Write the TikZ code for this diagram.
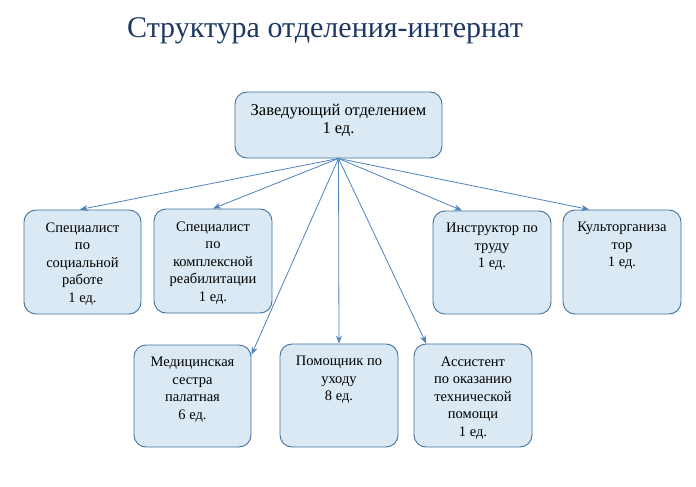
\documentclass[tikz,border=0pt]{standalone}
\usepackage{fontspec}
\setmainfont{Liberation Serif}
\usetikzlibrary{arrows.meta}
\definecolor{ColorTitle}{HTML}{1F3864}
\definecolor{ColorFill}{HTML}{DAE9F3}
\definecolor{ColorEdge}{HTML}{41719C}
\definecolor{ColorArrow}{HTML}{4F81BD}
\tikzset{
  unit/.style={draw=ColorEdge, fill=ColorFill, rounded corners=12pt, line width=0.9pt, inner sep=0pt},
  link/.style={draw=ColorArrow, line width=0.8pt, -{Stealth[length=8pt,width=6pt]}}
}

\begin{document}
\begin{tikzpicture}[x=1pt, y=-1pt]
        \useasboundingbox (0,0) rectangle (696,487);
        \node[text=ColorTitle, font=\fontsize{30}{36}\selectfont] (title) at (325,31) {Структура отделения-интернат};
        \foreach \nm/\x/\y/\w/\h/\fs/\txt in {
            head/338.5/125/207/66/16.5/{Заведующий отделением\\1 ед.},
            soc/82.5/262/117/104/14.5/{Специалист\\по\\социальной\\работе\\1 ед.},
            cmp/213/261/118/104/14.5/{Специалист\\по\\комплексной\\реабилитации\\1 ед.},
            ins/492/262.5/118/103/14.5/{Инструктор по\\труду\\1 ед.},
            kul/622/262/118/104/14.5/{Культорганиза\\тор\\1 ед.},
            med/192.5/396/117/102/14.5/{Медицинская\\сестра\\палатная\\6 ед.},
            pom/339/395.5/118/103/14.5/{Помощник по\\уходу\\8 ед.},
            ast/473/395.5/118/103/14.5/{Ассистент\\по оказанию\\технической\\помощи\\1 ед.}} {
            \node[unit, minimum width=\w pt, minimum height=\h pt] (\nm) at (\x,\y)
                {\parbox[c][\h pt][t]{\w pt}{\centering\fontsize{\fs}{17.5}\selectfont\vspace*{12.5pt}\txt}};
        }
        \foreach \to/\an in {soc/93, cmp/north, med/35, pom/north, ast/132, ins/120, kul/122} {
            \draw[link] (head.south) -- (\to.\an);
        }
    \end{tikzpicture}
\end{document}
